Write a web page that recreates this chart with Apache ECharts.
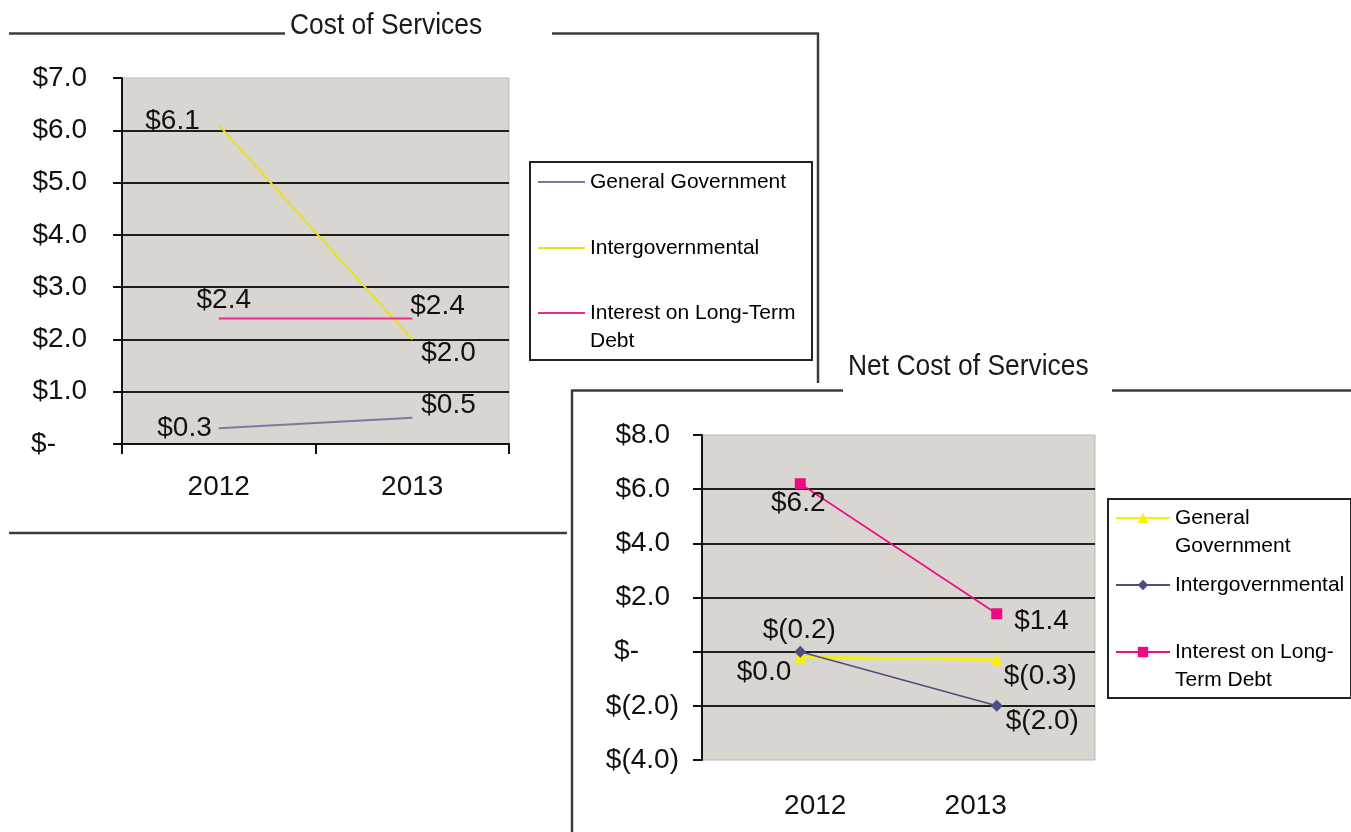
<!DOCTYPE html>
<html><head><meta charset="utf-8">
<script src="https://cdn.jsdelivr.net/npm/echarts@6/dist/echarts.min.js"></script>
<style>html,body{margin:0;padding:0;background:#fff}#c{width:1351px;height:832px}</style>
</head><body><div id="c"></div>
<script>
// ---------- data ----------
const years = ['2012', '2013'];
// Cost of Services (millions)
const costGeneralGovernment = [0.3, 0.5];
const costIntergovernmental = [6.1, 2.0];
const costInterestLTD = [2.4, 2.4];
// Net Cost of Services (millions)
const netGeneralGovernment = [-0.2, -0.3];
const netIntergovernmental = [0.0, -2.0];
const netInterestLTD = [6.2, 1.4];
// axis ranges
const costAxis = { min: 0, max: 7, interval: 1 };
const netAxis = { min: -4, max: 8, interval: 2 };
const titles = ['Cost of Services', 'Net Cost of Services'];

// ---------- styles ----------
const FONT = 'Liberation Sans, Arial, sans-serif';
const LBL = 28;
const BORDER = '#3c3c3c';

function dataText(v) { return v < 0 ? '$(' + (-v).toFixed(1) + ')' : '$' + v.toFixed(1); }
function axisText(v) {
  if (v > 0) return '{p|$' + v.toFixed(1) + '}';
  if (v < 0) return '{n|$(' + (-v).toFixed(1) + ')}';
  return '{z|$-}';
}
const tokenBase = { fontSize: LBL, fontFamily: FONT, color: '#111' };
const axisRich = {
  p: Object.assign({ padding: [0, 9, 0, 0] }, tokenBase),
  n: Object.assign({}, tokenBase),
  z: Object.assign({ padding: [0, 40, 0, 0] }, tokenBase)
};

// label placement per point (pos, distance, offset)
const costLabelPlace = {
  gg: [{ p: 'left', d: 7, dx: 0, dy: 0 }, { p: 'right', d: 9, dx: 0, dy: -13 }],
  ig: [{ p: 'left', d: 19, dx: 0, dy: -4 }, { p: 'right', d: 9, dx: 0, dy: 14 }],
  il: [{ p: 'inside', d: 0, dx: 5, dy: -18 }, { p: 'right', d: 0, dx: -2, dy: -12 }]
};
const netLabelPlace = {
  gg: [{ p: 'inside', d: 0, dx: -1, dy: -27 }, { p: 'right', d: 1, dx: 0, dy: 16 }],
  ig: [{ p: 'left', d: 3, dx: 0, dy: 21 }, { p: 'right', d: 3, dx: 0, dy: 15 }],
  il: [{ p: 'inside', d: 0, dx: -2, dy: 20 }, { p: 'right', d: 12, dx: 0, dy: 8 }]
};
function withLabels(values, place) {
  return values.map((v, i) => ({
    value: v,
    label: {
      show: true, position: place[i].p, distance: place[i].d,
      offset: [place[i].dx, place[i].dy], formatter: dataText(v),
      fontSize: LBL, fontFamily: FONT, color: '#111'
    }
  }));
}

// legend texts: a leading blank line keeps the icon level with the first text line
const legendNames = {
  'c-gg': 'General Government',
  'c-ig': 'Intergovernmental',
  'c-il': '\nInterest on Long-Term\nDebt',
  'n-gg': '\nGeneral\nGovernment',
  'n-ig': 'Intergovernmental',
  'n-il': '\nInterest on Long-\nTerm Debt'
};
const LEG_LH = 28;
function legendItem(name, left, cy, iw, ih, icon, twoLines) {
  const l = {
    left: left, top: cy - (twoLines ? LEG_LH * 1.5 : LEG_LH / 2), padding: 0,
    itemWidth: iw, itemHeight: ih, itemGap: 0, selectedMode: false,
    formatter: n => legendNames[n],
    textStyle: { fontSize: 21, fontFamily: FONT, color: '#000', lineHeight: LEG_LH },
    data: [{ name: name }]
  };
  if (icon) l.icon = icon;
  return l;
}
function titleText(text, x, cy) {
  return { type: 'text', x: x, y: cy, scaleX: 0.88, z: 10,
    style: { text: text, x: 0, y: 0, fontSize: 30, fontFamily: FONT, fill: '#1a1a1a',
      align: 'left', verticalAlign: 'middle' } };
}

const option = {
  backgroundColor: '#ffffff',
  animation: false,
  grid: [
    { left: 122, top: 78, width: 387, height: 366, show: true, backgroundColor: '#d9d5d1',
      borderColor: '#bdbab7', borderWidth: 1, containLabel: false },
    { left: 702, top: 435, width: 393, height: 325, show: true, backgroundColor: '#d9d5d1',
      borderColor: '#bdbab7', borderWidth: 1, containLabel: false }
  ],
  xAxis: [
    { gridIndex: 0, type: 'category', data: years, boundaryGap: true,
      axisLine: { show: true, lineStyle: { color: '#111', width: 2 } },
      axisTick: { show: true, length: 10, lineStyle: { color: '#111', width: 2 } },
      axisLabel: { margin: 29, fontSize: LBL, fontFamily: FONT, color: '#111' },
      splitLine: { show: false } },
    { gridIndex: 1, type: 'category', data: years, boundaryGap: true,
      axisLine: { show: false, onZero: false },
      axisTick: { show: false },
      axisLabel: { margin: 32, fontSize: LBL, fontFamily: FONT, color: '#111',
        formatter: v => v === years[0] ? '{a|' + v + '}' : '{b|' + v + '}',
        rich: {
          a: Object.assign({ padding: [0, 0, 0, 30] }, tokenBase),
          b: Object.assign({ padding: [0, 42, 0, 0] }, tokenBase)
        } },
      splitLine: { show: false } }
  ],
  yAxis: [
    { gridIndex: 0, type: 'value', min: costAxis.min, max: costAxis.max, interval: costAxis.interval,
      axisLine: { show: true, lineStyle: { color: '#111', width: 2 } },
      axisTick: { show: true, length: 9, lineStyle: { color: '#111', width: 2 } },
      axisLabel: { margin: 26, formatter: axisText, rich: axisRich },
      splitLine: { show: true, showMaxLine: false, lineStyle: { color: '#1e1e1e', width: 2 } } },
    { gridIndex: 1, type: 'value', min: netAxis.min, max: netAxis.max, interval: netAxis.interval,
      axisLine: { show: true, lineStyle: { color: '#111', width: 2 } },
      axisTick: { show: true, length: 9, lineStyle: { color: '#111', width: 2 } },
      axisLabel: { margin: 23, formatter: axisText, rich: axisRich },
      splitLine: { show: true, showMaxLine: false, showMinLine: false, lineStyle: { color: '#1e1e1e', width: 2 } } }
  ],
  legend: [
    legendItem('c-gg', 538, 182, 47, 2, 'rect', false),
    legendItem('c-ig', 538, 248, 47, 2, 'rect', false),
    legendItem('c-il', 538, 313, 47, 2, 'rect', true),
    legendItem('n-gg', 1115, 518, 54, 13, null, true),
    legendItem('n-ig', 1115, 585, 54, 13, null, false),
    legendItem('n-il', 1115, 652, 54, 13, null, true)
  ],
  graphic: [
    { type: 'line', shape: { x1: 9, y1: 33.5, x2: 285, y2: 33.5 }, style: { stroke: BORDER, lineWidth: 2.5 } },
    { type: 'line', shape: { x1: 552, y1: 33.5, x2: 819, y2: 33.5 }, style: { stroke: BORDER, lineWidth: 2.5 } },
    { type: 'line', shape: { x1: 818, y1: 33, x2: 818, y2: 383 }, style: { stroke: BORDER, lineWidth: 2.5 } },
    { type: 'line', shape: { x1: 9, y1: 533, x2: 567, y2: 533 }, style: { stroke: BORDER, lineWidth: 2.5 } },
    { type: 'line', shape: { x1: 571, y1: 390.5, x2: 843, y2: 390.5 }, style: { stroke: BORDER, lineWidth: 2.5 } },
    { type: 'line', shape: { x1: 1112, y1: 390.5, x2: 1351, y2: 390.5 }, style: { stroke: BORDER, lineWidth: 2.5 } },
    { type: 'line', shape: { x1: 572, y1: 390, x2: 572, y2: 832 }, style: { stroke: BORDER, lineWidth: 2.5 } },
    { type: 'rect', shape: { x: 530, y: 162, width: 282, height: 198 }, style: { fill: '#fff', stroke: '#222', lineWidth: 2 } },
    { type: 'rect', shape: { x: 1108, y: 499, width: 243, height: 199 }, style: { fill: '#fff', stroke: '#222', lineWidth: 2 } },
    titleText(titles[0], 290, 26),
    titleText(titles[1], 848, 367)
  ],
  series: [
    { name: 'c-gg', type: 'line', xAxisIndex: 0, yAxisIndex: 0, symbol: 'circle', symbolSize: 0.01,
      lineStyle: { color: '#7b78a6', width: 2 }, itemStyle: { color: '#7b78a6' },
      data: withLabels(costGeneralGovernment, costLabelPlace.gg) },
    { name: 'c-ig', type: 'line', xAxisIndex: 0, yAxisIndex: 0, symbol: 'circle', symbolSize: 0.01,
      lineStyle: { color: '#ece21c', width: 2 }, itemStyle: { color: '#ece21c' },
      data: withLabels(costIntergovernmental, costLabelPlace.ig) },
    { name: 'c-il', type: 'line', xAxisIndex: 0, yAxisIndex: 0, symbol: 'circle', symbolSize: 0.01,
      lineStyle: { color: '#ee2a92', width: 2 }, itemStyle: { color: '#ee2a92' },
      data: withLabels(costInterestLTD, costLabelPlace.il) },
    { name: 'n-gg', type: 'line', xAxisIndex: 1, yAxisIndex: 1, symbol: 'triangle', symbolSize: 12,
      lineStyle: { color: '#f8f000', width: 2.5 }, itemStyle: { color: '#f8f000' },
      data: withLabels(netGeneralGovernment, netLabelPlace.gg) },
    { name: 'n-ig', type: 'line', xAxisIndex: 1, yAxisIndex: 1, symbol: 'diamond', symbolSize: 12,
      lineStyle: { color: '#4f4c80', width: 1.5 }, itemStyle: { color: '#4f4c80' },
      data: withLabels(netIntergovernmental, netLabelPlace.ig) },
    { name: 'n-il', type: 'line', xAxisIndex: 1, yAxisIndex: 1, symbol: 'rect', symbolSize: 11,
      lineStyle: { color: '#ec0a86', width: 1.5 }, itemStyle: { color: '#ec0a86' },
      data: withLabels(netInterestLTD, netLabelPlace.il) }
  ]
};

const chart = echarts.init(document.getElementById('c'), null, { renderer: 'canvas' });
chart.setOption(option);
</script>
</body></html>
